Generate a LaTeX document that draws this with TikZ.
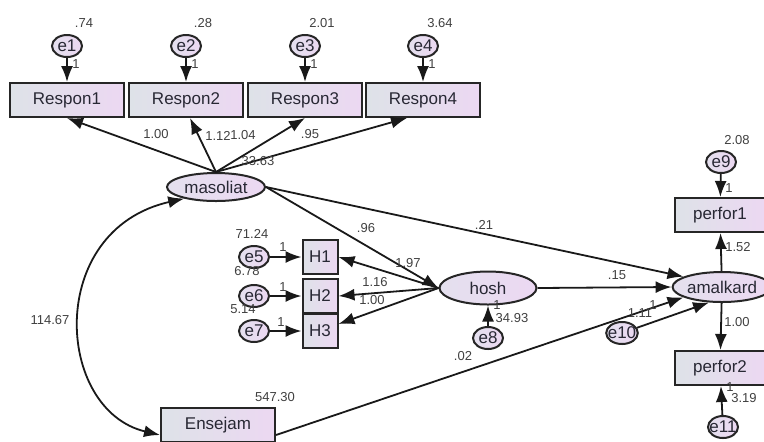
\documentclass[tikz,border=0pt]{standalone}
\usepackage{fontspec}
\setmainfont{Liberation Sans}
\usetikzlibrary{shapes.geometric,arrows.meta}
\definecolor{boxleft}{RGB}{222,226,232}
\definecolor{boxright}{RGB}{236,216,242}
\definecolor{ovalfill}{RGB}{228,224,238}
\definecolor{ink}{RGB}{40,40,52}

\begin{document}
\begin{tikzpicture}[
  x=0.5pt, y=-0.5pt,
  observed/.style={rectangle, draw=black!85, line width=1pt, left color=boxleft, right color=boxright,
    minimum width=57pt, minimum height=17pt, inner sep=0pt, text=ink, font=\fontsize{8.5}{10}\selectfont},
  indicator/.style={observed, minimum width=17.5pt, minimum height=17pt},
  latent/.style={ellipse, draw=black!85, line width=1pt, left color=ovalfill, right color=boxright,
    minimum width=49pt, minimum height=14pt, inner sep=0pt, text=ink, font=\fontsize{8.5}{10}\selectfont},
  residual/.style={latent, minimum width=15pt, minimum height=11pt, inner xsep=-1.5pt},
  estimate/.style={inner sep=0pt, text=black!75, font=\fontsize{6.5}{7}\selectfont},
  regression/.style={draw=black!90, line width=0.9pt, -{Latex[length=8pt,width=6pt]}},
  covariance/.style={regression, {Latex[length=8pt,width=6pt]}-{Latex[length=8pt,width=6pt]}},
]
\useasboundingbox (0,0) rectangle (764,441);

% responsibility indicators
\foreach \i/\x/\v in {1/67/.74, 2/186/.28, 3/305/2.01, 4/423/3.64} {
  \node[observed] (respon\i) at (\x,100) {Respon\i};
  \node[residual] (e\i) at (\x,46) {e\i};
  \node[estimate] (var\i) at (\x+17,23) {\v};
  \node[estimate] (one\i) at (\x+9,64) {1};
  \draw[regression] (e\i) -- (respon\i);
}

\node[latent] (masoliat) at (216,187) {masoliat};
\node[latent, minimum width=48.5pt, minimum height=16.5pt] (hosh) at (488,288) {hosh};
\node[latent, minimum width=47pt, minimum height=15pt] (amalkard) at (722,287) {amalkard};
\node[observed] (ensejam) at (218,425) {Ensejam};

% hosh indicators
\foreach \i/\y in {1/257, 2/296, 3/331} {
  \pgfmathtruncatemacro{\j}{\i+4}
  \node[indicator] (H\i) at (320,\y) {H\i};
  \node[residual] (e\j) at (254,\y) {e\j};
  \draw[regression] (e\j) -- (H\i);
}
\node[residual] (e8) at (488,338) {e8};
\node[residual] (e9) at (721,162) {e9};
\node[residual] (e10) at (622,333) {e10};
\node[residual] (e11) at (723,427) {e11};
\node[observed, minimum width=45pt] (perfor1) at (720,215) {perfor1};
\node[observed, minimum width=45pt] (perfor2) at (720,368) {perfor2};

% paths
\draw[regression] (masoliat.north) -- (respon1.south);
\draw[regression] (masoliat.north) -- ([xshift=2pt]respon2.south);
\draw[regression] (masoliat.north) -- (respon3.south);
\draw[regression] (masoliat.north) -- ([xshift=-8pt]respon4.south);
\draw[regression] (masoliat.east) -- (hosh.west);
\draw[regression] (masoliat.east) -- (amalkard.165);
\draw[regression] (hosh.west) -- (H1.east);
\draw[regression] (hosh.west) -- (H2.east);
\draw[regression] (hosh.west) -- ([yshift=3.5pt]H3.east);
\draw[regression] (hosh.east) -- (amalkard.west);
\draw[regression] ([yshift=-5pt]ensejam.east) -- (amalkard.195);
\draw[regression] (e10) -- (amalkard.230);
\draw[regression] (e8) -- (hosh);
\draw[regression] (amalkard) -- (perfor1);
\draw[regression] (amalkard) -- (perfor2);
\draw[regression] (e9) -- (perfor1);
\draw[regression] (e11) -- (perfor2);
\draw[covariance] (masoliat.200) .. controls (45,230) and (55,410) .. ([yshift=-5pt]ensejam.west);

% estimates
\foreach \t/\x/\y [count=\k] in {1.00/156/134, 1.12/218/136, 1.04/243/135, .95/310/134, 33.63/258/161,
  .96/366/228, .21/484/225, 71.24/252/234, 6.78/247/271, 5.14/243/309, 1.97/408/263, 1.16/375/282,
  1.00/372/300, .15/617/275, 34.93/512/318, .02/463/356, 1.11/640/313, 2.08/737/140, 1.52/738/247,
  1.00/737/322, 3.19/744/398, 114.67/50/320, 547.30/275/397}
  \node[estimate] (est\k) at (\x,\y) {\t};
\foreach \x/\y [count=\k] in {283/247, 283/287, 281/322, 497/305, 653/305, 729/188, 730/387}
  \node[estimate] (unit\k) at (\x,\y) {1};
\end{tikzpicture}
\end{document}
